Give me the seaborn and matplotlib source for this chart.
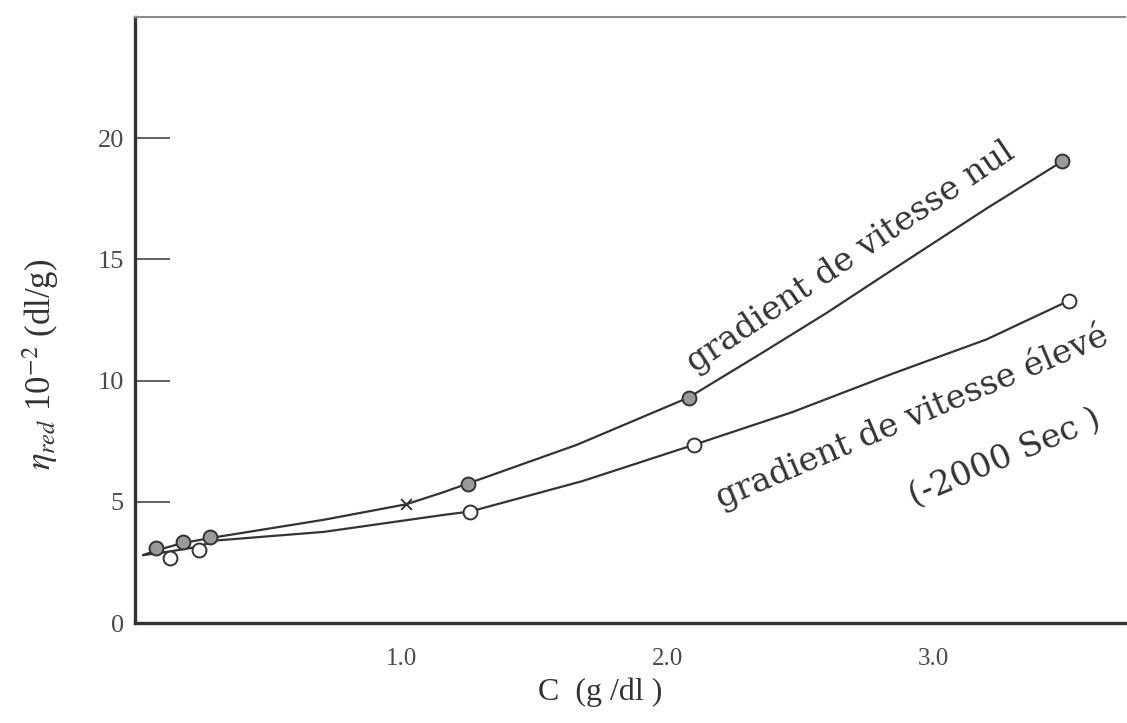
import matplotlib
matplotlib.use("Agg")
import matplotlib.pyplot as plt
import seaborn as sns
import pandas as pd

# ---- data ----
# measured points, "gradient de vitesse nul" (filled markers)
c_nul = [0.08, 0.18, 0.28, 1.25, 2.08, 3.485]
eta_nul = [3.1, 3.35, 3.55, 5.75, 9.3, 19.05]
# small cross marker on the upper curve
c_cross = [1.02]
eta_cross = [4.9]
# measured points, "gradient de vitesse élevé" (open markers)
c_eleve = [0.13, 0.24, 1.26, 2.10, 3.51]
eta_eleve = [2.7, 3.0, 4.6, 7.35, 13.3]

# traced curves
curve_nul_c = [0.03, 0.08, 0.18, 0.28, 0.71, 1.02, 1.16, 1.25, 1.66, 2.08, 2.35, 2.60, 2.85, 3.20, 3.485]
curve_nul_eta = [2.8, 3.0, 3.3, 3.5, 4.26, 4.9, 5.4, 5.75, 7.35, 9.3, 11.1, 12.8, 14.6, 17.1, 19.05]
curve_eleve_c = [0.03, 0.13, 0.24, 0.30, 0.71, 1.16, 1.26, 1.68, 2.10, 2.47, 2.85, 3.20, 3.51]
curve_eleve_eta = [2.8, 2.95, 3.15, 3.4, 3.76, 4.46, 4.6, 5.85, 7.35, 8.7, 10.3, 11.7, 13.3]

x_ticks = [1.0, 2.0, 3.0]
x_ticklabels = ["1.0", "2.0", "3.0"]
y_ticks = [0, 5, 10, 15, 20]
y_ticklabels = ["0", "5", "10", "15", "20"]

sns.set_theme(style="white")
plt.rcParams["font.family"] = ["Liberation Serif", "DejaVu Serif"]
plt.rcParams["mathtext.fontset"] = "stix"

fig = plt.figure(figsize=(11.27, 7.23), dpi=100)
ax = fig.add_axes([0.1198, 0.1383, 0.8784, 0.8382])

ink = "#333333"

df_nul = pd.DataFrame({"c": curve_nul_c, "eta": curve_nul_eta})
df_el = pd.DataFrame({"c": curve_eleve_c, "eta": curve_eleve_eta})
sns.lineplot(data=df_nul, x="c", y="eta", ax=ax, color=ink, lw=1.6, sort=False, estimator=None)
sns.lineplot(data=df_el, x="c", y="eta", ax=ax, color=ink, lw=1.6, sort=False, estimator=None)

sns.scatterplot(x=c_nul, y=eta_nul, ax=ax, s=100, color="#9a9a9a", edgecolor=ink, linewidth=1.4, zorder=5)
sns.scatterplot(x=c_eleve, y=eta_eleve, ax=ax, s=100, color="white", edgecolor=ink, linewidth=1.4, zorder=5)
sns.scatterplot(x=c_cross, y=eta_cross, ax=ax, s=60, marker="x", color=ink, linewidth=1.4, zorder=5)

ax.set_xlim(0, 3.72)
ax.set_ylim(0, 25)
ax.set_xticks(x_ticks)
ax.set_xticklabels(x_ticklabels, fontsize=18, color="#4a4a4a")
ax.set_yticks(y_ticks)
ax.set_yticklabels(y_ticklabels, fontsize=19, color="#4a4a4a")
ax.tick_params(axis="x", bottom=False, length=0, pad=18)
ax.tick_params(axis="y", left=True, direction="in", length=25, width=1.3, color="#555555", pad=8)

for side in ["left", "bottom"]:
    ax.spines[side].set_color(ink)
    ax.spines[side].set_linewidth(2.4)
ax.spines["top"].set_color("#8a8a8a")
ax.spines["top"].set_linewidth(1.5)
ax.spines["right"].set_visible(False)

ax.set_xlabel("C  (g /dl )", fontsize=23, color=ink)
ax.xaxis.set_label_coords(0.47, -0.09)
ax.set_ylabel(r"$\eta_{red}$ 10$^{-2}$ (dl/g)", fontsize=25, color=ink)
ax.yaxis.set_label_coords(-0.075, 0.426)

ann = dict(fontsize=24, color=ink, ha="center", va="center", rotation_mode="anchor",
           family=["DejaVu Serif"])
ax.text(2.69, 15.1, "gradient de vitesse nul", rotation=34, **ann)
ax.text(2.92, 8.5, "gradient de vitesse élevé", rotation=23, **ann)
ax.text(3.27, 6.8, "(-2000 Sec )", rotation=23, **ann)

fig.savefig("out.png", dpi=100)
